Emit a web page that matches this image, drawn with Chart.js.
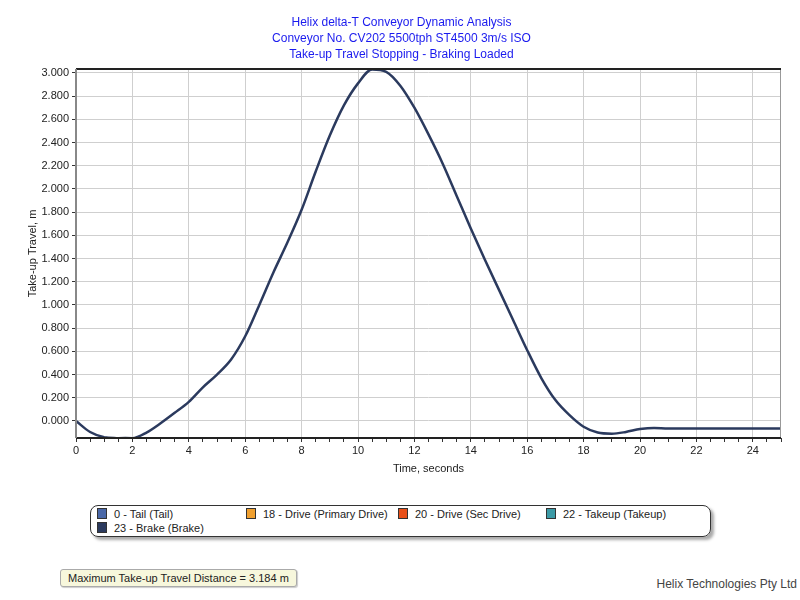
<!DOCTYPE html>
<html>
<head>
<meta charset="utf-8">
<script src="https://cdn.jsdelivr.net/npm/chart.js@4.4.0/dist/chart.umd.min.js"></script>
<style>
  body { margin: 0; background: #fff; font-family: "Liberation Sans", Arial, sans-serif; }
  #wrap { position: relative; width: 800px; height: 600px; }
  #chart { position: absolute; left: 0; top: 0; }
  #legend { position: absolute; left: 90px; top: 505px; width: 619px; height: 30px;
    border: 1.5px solid #333; border-radius: 8px; box-shadow: 3px 3px 3px #aaa; font-size: 11px; color: #222; }
  .item { position: absolute; height: 14px; line-height: 14px; white-space: nowrap; }
  .item span.sw { display: inline-block; width: 8px; height: 9px; border: 1px solid #333; margin-right: 7px; vertical-align: -1px; }
  #maxbox { position: absolute; left: 60px; top: 569px; padding: 2px 7px; font-size: 11px; color: #222;
    background: #f7f7dc; border: 1px solid #aaa; border-radius: 3px; box-shadow: 1px 1px 1px #ccc; }
  #footer { position: absolute; right: 3px; top: 577px; font-size: 12px; color: #444; }
</style>
</head>
<body>
<div id="wrap">
  <canvas id="chart" width="800" height="480"></canvas>
  <div id="legend"></div>
  <div id="maxbox">Maximum Take-up Travel Distance = 3.184 m</div>
  <div id="footer">Helix Technologies Pty Ltd</div>
</div>
<script>
// time, seconds
var times = [0, 0.5, 1, 1.5, 2, 2.5, 3, 3.5, 4, 4.5, 5, 5.5, 6, 6.5, 7, 7.5, 8, 8.5, 9, 9.5,
  10, 10.5, 11, 11.5, 12, 12.5, 13, 13.5, 14, 14.5, 15, 15.5, 16, 16.5, 17, 17.5, 18, 18.5, 19, 19.5,
  20, 20.5, 21, 22, 23, 24, 25];
// take-up travel, m
var takeupTravel = [0, -0.095, -0.14, -0.15, -0.15, -0.10, -0.02, 0.07, 0.165, 0.29, 0.40, 0.53, 0.73, 1.0, 1.28, 1.54, 1.82, 2.15, 2.46, 2.72,
  2.91, 3.03, 3.01, 2.89, 2.70, 2.47, 2.22, 1.94, 1.66, 1.39, 1.13, 0.87, 0.61, 0.37, 0.18, 0.05, -0.05, -0.10, -0.11, -0.095,
  -0.07, -0.06, -0.065, -0.065, -0.065, -0.065, -0.065];
var seriesNames = ['0 - Tail (Tail)', '18 - Drive (Primary Drive)', '20 - Drive (Sec Drive)', '22 - Takeup (Takeup)', '23 - Brake (Brake)'];
var seriesColors = ['#4a68a8', '#f0a030', '#e8501a', '#3c9aa6', '#2b3a5e'];
var yTicks = [0, 0.2, 0.4, 0.6, 0.8, 1.0, 1.2, 1.4, 1.6, 1.8, 2.0, 2.2, 2.4, 2.6, 2.8, 3.0];
var titleLines = ['Helix delta-T Conveyor Dynamic Analysis', 'Conveyor No. CV202 5500tph ST4500 3m/s ISO', 'Take-up Travel Stopping - Braking Loaded'];

// legend (html, four columns)
var legendPos = [[6, 1], [155, 1], [307, 1], [455, 1], [6, 15]];
var leg = document.getElementById('legend');
seriesNames.forEach(function (n, i) {
  var d = document.createElement('div');
  d.className = 'item';
  d.style.left = legendPos[i][0] + 'px';
  d.style.top = legendPos[i][1] + 'px';
  d.innerHTML = '<span class="sw" style="background:' + seriesColors[i] + '"></span>' + n;
  leg.appendChild(d);
});

var pts = times.map(function (t, i) { return { x: t, y: takeupTravel[i] }; });

var frame = {
  id: 'frame',
  afterDraw: function (chart) {
    var a = chart.chartArea, c = chart.ctx;
    c.save();
    c.strokeStyle = '#999'; c.lineWidth = 1;
    c.beginPath(); c.moveTo(a.right - 0.5, a.top); c.lineTo(a.right - 0.5, a.bottom); c.stroke();
    c.strokeStyle = '#222'; c.lineWidth = 2;
    c.beginPath(); c.moveTo(a.left, a.top); c.lineTo(a.right, a.top); c.stroke();
    c.beginPath(); c.moveTo(a.left, a.bottom); c.lineTo(a.right, a.bottom); c.stroke();
    c.strokeStyle = '#888'; c.lineWidth = 2;
    c.beginPath(); c.moveTo(a.left, a.top); c.lineTo(a.left, a.bottom); c.stroke();
    c.restore();
  }
};

new Chart(document.getElementById('chart'), {
  type: 'line',
  data: {
    datasets: [{
      label: seriesNames[4],
      data: pts,
      borderColor: seriesColors[4],
      borderWidth: 2.5,
      pointRadius: 0,
      cubicInterpolationMode: 'monotone',
      fill: false
    }]
  },
  options: {
    responsive: false,
    animation: false,
    layout: { padding: { left: 22, right: 19, top: 0, bottom: 0 } },
    plugins: {
      legend: { display: false },
      tooltip: { enabled: false },
      title: {
        display: true,
        text: titleLines,
        color: '#1a1aee',
        font: { family: 'Liberation Sans', size: 12, weight: 'normal', lineHeight: 1.333 },
        padding: { top: 15, bottom: 6 }
      }
    },
    scales: {
      x: {
        type: 'linear',
        min: 0, max: 25,
        afterFit: function (s) { s.height = 42; },
        ticks: {
          stepSize: 0.5, autoSkip: false, maxRotation: 0, color: '#222',
          font: { family: 'Liberation Sans', size: 11 }, padding: 2,
          callback: function (v) { return v % 2 === 0 ? String(v) : ''; }
        },
        grid: {
          color: function (ctx) { return ctx.tick && ctx.tick.value % 2 === 0 && ctx.tick.value > 0 ? '#cfcfcf' : 'rgba(0,0,0,0)'; },
          tickColor: '#333', tickLength: 4, lineWidth: 1
        },
        border: { display: false },
        title: { display: true, text: 'Time, seconds', color: '#222', font: { family: 'Liberation Sans', size: 11 }, padding: { top: 4 } }
      },
      y: {
        type: 'linear',
        min: -0.147, max: 3.034,
        afterFit: function (s) { s.width = 54; },
        afterBuildTicks: function (s) { s.ticks = yTicks.map(function (v) { return { value: v }; }); },
        ticks: {
          color: '#222', font: { family: 'Liberation Sans', size: 11 }, padding: 3,
          callback: function (v) { return Number(v).toFixed(3); }
        },
        grid: { color: '#cfcfcf', tickColor: '#333', tickLength: 4 },
        border: { display: false },
        title: { display: true, text: 'Take-up Travel, m', color: '#222', font: { family: 'Liberation Sans', size: 11 }, padding: { top: 4, bottom: 2 } }
      }
    }
  },
  plugins: [frame]
});
</script>
</body>
</html>
